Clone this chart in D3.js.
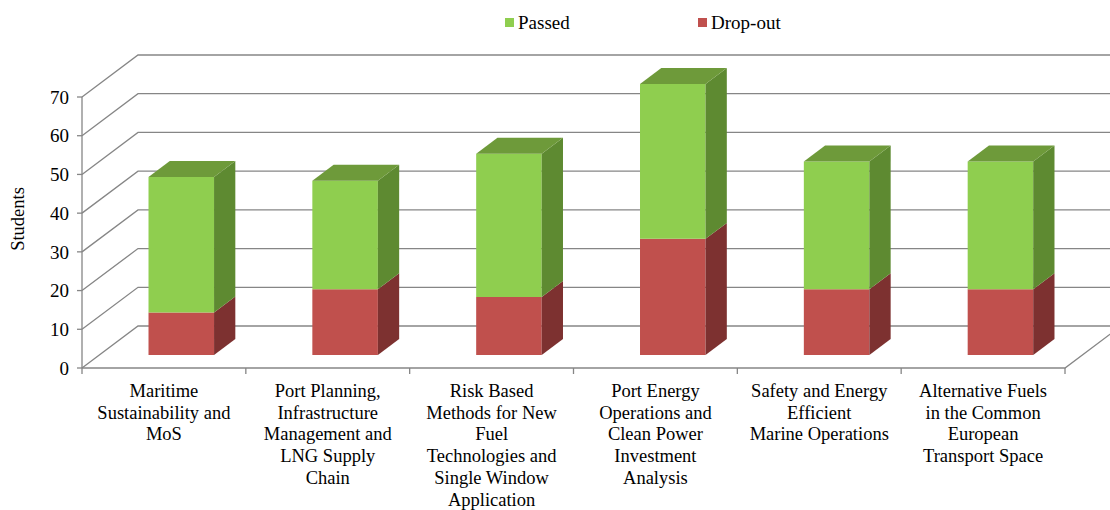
<!DOCTYPE html>
<html>
<head>
<meta charset="utf-8">
<script src="https://cdn.jsdelivr.net/npm/d3@7"></script>
<style>
  body { margin: 0; background: #fff; }
</style>
</head>
<body>
<div id="chart"></div>
<script>
const categories = [
  ["Maritime", "Sustainability and", "MoS"],
  ["Port Planning,", "Infrastructure", "Management and", "LNG Supply", "Chain"],
  ["Risk Based", "Methods for New", "Fuel", "Technologies and", "Single Window", "Application"],
  ["Port Energy", "Operations and", "Clean Power", "Investment", "Analysis"],
  ["Safety and Energy", "Efficient", "Marine Operations"],
  ["Alternative Fuels", "in the Common", "European", "Transport Space"]
];
const dropout = [11, 17, 15, 30, 17, 17];
const passed = [35, 28, 37, 40, 33, 33];
const yTicks = [0, 10, 20, 30, 40, 50, 60, 70];
const seriesNames = ["Passed", "Drop-out"];

const width = 1110, height = 510;
const depth = { x: 56, y: -42 };   // oblique offset of the back wall
const z0 = 0.31, z1 = 0.69;        // bar front / back depth
const font = "'Liberation Serif', 'Times New Roman', serif";

const svg = d3.select("#chart").append("svg")
  .attr("width", width).attr("height", height)
  .attr("font-family", font);

const x = d3.scaleBand()
  .domain(d3.range(categories.length))
  .range([82, 1065])
  .paddingInner(0.6)
  .paddingOuter(0.3);

const y = d3.scaleLinear().domain([0, 70]).range([368, 97]);

const grid = "#868686";

// back wall gridlines with the diagonal on the left side wall
yTicks.forEach((t) => {
  const y0 = y(t);
  svg.append("path")
    .attr("d", `M82,${y0}L${82 + depth.x},${y0 + depth.y}L${width},${y0 + depth.y}`)
    .attr("fill", "none")
    .attr("stroke", grid)
    .attr("stroke-width", 1.3);
});

// floor front edge and right diagonal
svg.append("path")
  .attr("d", `M82,${y(0)}L1065,${y(0)}L${1065 + depth.x},${y(0) + depth.y}`)
  .attr("fill", "none")
  .attr("stroke", grid)
  .attr("stroke-width", 1.3);

// value axis
svg.append("line")
  .attr("x1", 82).attr("x2", 82)
  .attr("y1", y(0)).attr("y2", y(70))
  .attr("stroke", grid).attr("stroke-width", 1.3);

svg.selectAll(".ytick")
  .data(yTicks)
  .enter()
  .append("line")
  .attr("x1", 77).attr("x2", 82)
  .attr("y1", (d) => y(d)).attr("y2", (d) => y(d))
  .attr("stroke", grid).attr("stroke-width", 1.3);

svg.selectAll(".ylabel")
  .data(yTicks)
  .enter()
  .append("text")
  .attr("x", 69)
  .attr("y", (d) => y(d))
  .attr("dy", "0.35em")
  .attr("text-anchor", "end")
  .attr("font-size", 19)
  .text((d) => d);

svg.append("text")
  .attr("transform", "translate(24,219) rotate(-90)")
  .attr("text-anchor", "middle")
  .attr("font-size", 18.5)
  .text("Students");

// category ticks
const step = x.step();
svg.selectAll(".xtick")
  .data(d3.range(categories.length + 1))
  .enter()
  .append("line")
  .attr("x1", (i) => 82 + i * step).attr("x2", (i) => 82 + i * step)
  .attr("y1", y(0)).attr("y2", y(0) + 6)
  .attr("stroke", grid).attr("stroke-width", 1.3);

// category labels
categories.forEach((lines, i) => {
  const cx = x(i) + x.bandwidth() / 2;
  const t = svg.append("text")
    .attr("text-anchor", "middle")
    .attr("font-size", 18.5);
  lines.forEach((ln, k) => {
    t.append("tspan")
      .attr("x", cx)
      .attr("y", 397 + k * 21.7)
      .text(ln);
  });
});

// 3D bars
const colors = {
  dropout: { front: "#C0504D", side: "#7D3130", top: "#9E3E3B" },
  passed: { front: "#8FCE4F", side: "#5E8A31", top: "#6E9A3A" }
};

function pt(px, v, z) {
  return [px + z * depth.x, y(v) + z * depth.y];
}

function poly(points) {
  return "M" + points.map((p) => p.join(",")).join("L") + "Z";
}

function segment(i, v0, v1, c, withTop) {
  const xl = x(i), xr = x(i) + x.bandwidth();
  const g = svg.append("g");
  g.append("path")
    .attr("d", poly([pt(xl, v0, z0), pt(xr, v0, z0), pt(xr, v1, z0), pt(xl, v1, z0)]))
    .attr("fill", c.front);
  g.append("path")
    .attr("d", poly([pt(xr, v0, z0), pt(xr, v0, z1), pt(xr, v1, z1), pt(xr, v1, z0)]))
    .attr("fill", c.side);
  if (withTop) {
    g.append("path")
      .attr("d", poly([pt(xl, v1, z0), pt(xr, v1, z0), pt(xr, v1, z1), pt(xl, v1, z1)]))
      .attr("fill", c.top);
  }
}

categories.forEach((_, i) => {
  segment(i, 0, dropout[i], colors.dropout, false);
  segment(i, dropout[i], dropout[i] + passed[i], colors.passed, true);
});

// legend
const legend = [
  { name: seriesNames[0], color: colors.passed.front, x: 505 },
  { name: seriesNames[1], color: colors.dropout.front, x: 698 }
];
legend.forEach((d) => {
  svg.append("rect")
    .attr("x", d.x).attr("y", 18)
    .attr("width", 9).attr("height", 9)
    .attr("fill", d.color);
  svg.append("text")
    .attr("x", d.x + 13).attr("y", 29)
    .attr("font-size", 19)
    .text(d.name);
});
</script>
</body>
</html>
